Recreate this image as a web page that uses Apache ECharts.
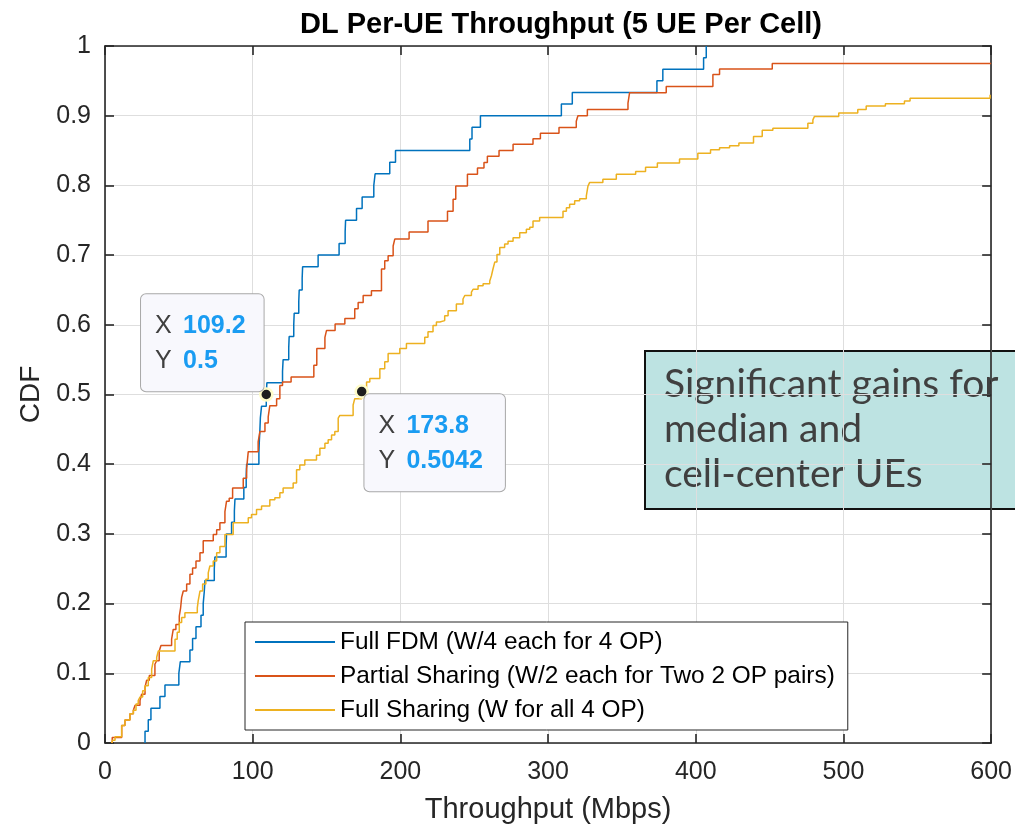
<!DOCTYPE html>
<html>
<head>
<meta charset="utf-8">
<script src="https://cdn.jsdelivr.net/npm/echarts@6/dist/echarts.min.js"></script>
<style>
html,body{margin:0;padding:0;background:#fff;}
#chart{width:1015px;height:829px;}
</style>
</head>
<body>
<div id="chart"></div>
<script>
// ---- data ----
var seriesNames = ['Full FDM (W/4 each for 4 OP)', 'Partial Sharing (W/2 each for Two 2 OP pairs)', 'Full Sharing (W for all 4 OP)'];

var fdmX = [27.1, 27.1, 29.3, 31.1, 37.2, 40.6, 50.0, 51.0, 57.5, 59.3, 61.6, 65.0, 66.5, 67.2, 67.7, 74.0, 74.4, 82.0, 82.3, 85.7, 87.6, 88.0, 94.0, 95.6, 95.9, 104.2, 104.5, 104.9, 105.2, 106.0, 109.2, 109.6, 120.2, 120.6, 124.4, 124.7, 127.8, 128.1, 131.2, 131.5, 133.5, 133.8, 144.3, 158.5, 162.6, 162.9, 170.3, 174.1, 182.0, 182.9, 192.8, 196.7, 247.0, 248.5, 254.2, 309.0, 316.4, 373.7, 377.7, 405.3, 407.1];
var fdmY = [0, 0.0167, 0.0333, 0.05, 0.0667, 0.0833, 0.1, 0.1167, 0.1333, 0.15, 0.1667, 0.1833, 0.2, 0.2167, 0.2333, 0.25, 0.2667, 0.2833, 0.3, 0.3167, 0.3333, 0.35, 0.3667, 0.3833, 0.4, 0.4167, 0.4333, 0.45, 0.4667, 0.4833, 0.5, 0.5167, 0.5333, 0.55, 0.5667, 0.5833, 0.6, 0.6167, 0.6333, 0.65, 0.6667, 0.6833, 0.7, 0.7167, 0.7333, 0.75, 0.7667, 0.7833, 0.8, 0.8167, 0.8333, 0.85, 0.8667, 0.8833, 0.9, 0.9167, 0.9333, 0.95, 0.9667, 0.9833, 1.0];

var partialX = [4.9, 4.9, 11.3, 13.5, 16.9, 19.2, 20.3, 23.7, 24.8, 27.1, 28.2, 30.0, 33.8, 35.0, 36.7, 37.9, 45.1, 46.2, 48.0, 50.3, 51.2, 51.9, 53.0, 55.3, 57.5, 59.3, 61.6, 64.3, 66.5, 73.3, 75.6, 77.8, 81.2, 82.3, 84.1, 86.4, 93.6, 95.9, 97.0, 103.7, 104.9, 108.3, 110.5, 111.6, 116.2, 118.4, 120.2, 126.0, 141.4, 143.4, 148.9, 150.0, 155.8, 162.4, 169.1, 171.4, 174.8, 180.4, 187.2, 189.4, 191.7, 195.1, 196.2, 205.9, 218.7, 231.9, 235.7, 237.5, 245.4, 252.2, 256.6, 258.9, 266.8, 276.3, 289.8, 294.8, 307.4, 319.1, 320.2, 326.6, 354.1, 355.2, 380.0, 411.6, 416.1, 451.8, 600];
var partialY = [0, 0.008, 0.025, 0.033, 0.042, 0.047, 0.054, 0.061, 0.07, 0.08, 0.09, 0.097, 0.113, 0.118, 0.132, 0.14, 0.149, 0.163, 0.17, 0.182, 0.194, 0.209, 0.218, 0.228, 0.242, 0.251, 0.261, 0.273, 0.29, 0.299, 0.306, 0.316, 0.332, 0.347, 0.351, 0.366, 0.38, 0.394, 0.418, 0.432, 0.447, 0.459, 0.468, 0.484, 0.494, 0.513, 0.518, 0.525, 0.542, 0.566, 0.582, 0.592, 0.601, 0.609, 0.623, 0.632, 0.642, 0.649, 0.68, 0.692, 0.699, 0.713, 0.723, 0.733, 0.749, 0.763, 0.78, 0.799, 0.816, 0.825, 0.833, 0.842, 0.85, 0.859, 0.867, 0.875, 0.883, 0.892, 0.9, 0.909, 0.918, 0.933, 0.942, 0.959, 0.967, 0.975, 0.975];

var fullX = [4.5, 5.2, 6.8, 11.3, 13.5, 16.9, 19.2, 21.0, 22.5, 23.7, 25.5, 27.1, 29.3, 31.6, 32.7, 35.0, 36.1, 47.4, 48.9, 50.3, 51.9, 54.1, 62.5, 63.1, 64.3, 66.1, 68.3, 69.9, 71.0, 73.3, 75.6, 77.8, 81.2, 86.8, 97.0, 99.2, 102.6, 106.0, 111.6, 115.0, 118.4, 120.6, 127.4, 129.7, 131.9, 135.3, 143.2, 145.5, 148.9, 151.1, 153.4, 155.6, 157.9, 159.0, 168.0, 169.1, 173.8, 177.1, 179.3, 186.1, 189.4, 191.7, 199.6, 204.1, 216.5, 218.7, 222.1, 224.4, 226.7, 230.0, 232.3, 237.9, 242.4, 243.6, 248.1, 249.2, 252.6, 256.0, 260.5, 261.6, 262.7, 263.9, 265.4, 267.3, 270.6, 272.9, 276.3, 280.8, 285.3, 287.6, 289.8, 294.3, 310.1, 312.4, 314.6, 318.0, 321.4, 325.9, 327.0, 328.1, 337.1, 346.2, 359.3, 366.0, 374.0, 389.0, 401.4, 410.0, 416.1, 422.9, 429.2, 439.1, 445.0, 452.2, 475.9, 479.3, 480.4, 496.8, 509.7, 515.4, 528.4, 541.3, 545.1, 599.3];
var fullY = [0, 0.004, 0.009, 0.025, 0.033, 0.042, 0.047, 0.056, 0.061, 0.066, 0.075, 0.082, 0.094, 0.106, 0.118, 0.123, 0.132, 0.149, 0.159, 0.173, 0.18, 0.187, 0.194, 0.204, 0.218, 0.228, 0.235, 0.244, 0.254, 0.261, 0.273, 0.282, 0.299, 0.316, 0.323, 0.328, 0.335, 0.34, 0.349, 0.352, 0.359, 0.366, 0.373, 0.392, 0.399, 0.406, 0.413, 0.423, 0.43, 0.435, 0.442, 0.447, 0.466, 0.47, 0.485, 0.494, 0.5042, 0.518, 0.523, 0.537, 0.547, 0.559, 0.566, 0.573, 0.582, 0.59, 0.599, 0.604, 0.606, 0.613, 0.62, 0.63, 0.637, 0.642, 0.647, 0.651, 0.656, 0.659, 0.663, 0.67, 0.68, 0.69, 0.701, 0.711, 0.716, 0.72, 0.725, 0.732, 0.737, 0.74, 0.749, 0.754, 0.763, 0.768, 0.773, 0.778, 0.781, 0.785, 0.799, 0.804, 0.809, 0.816, 0.82, 0.826, 0.832, 0.838, 0.846, 0.851, 0.854, 0.857, 0.861, 0.87, 0.879, 0.882, 0.889, 0.894, 0.899, 0.904, 0.909, 0.914, 0.917, 0.921, 0.925, 0.93];

var tipX = [109.2, 173.8];
var tipY = [0.5, 0.5042];

var xTicks = [0, 100, 200, 300, 400, 500, 600];
var yTicks = [0, 0.1, 0.2, 0.3, 0.4, 0.5, 0.6, 0.7, 0.8, 0.9, 1];

var titleText = 'DL Per-UE Throughput (5 UE Per Cell)';
var xName = 'Throughput (Mbps)';
var yName = 'CDF';
var noteText = 'Significant gains for\nmedian and\ncell-center UEs';

// ---- build ----
function zip(xs, ys) { return xs.map(function (x, i) { return [x, ys[i]]; }); }
var colors = ['#0072BD', '#D95319', '#EDB120'];
var axisColor = '#262626';
var fontMain = "'Liberation Sans', Arial, Helvetica, sans-serif";

var chart = echarts.init(document.getElementById('chart'), null, { renderer: 'canvas' });

function lineSeries(name, data, color) {
  return {
    name: name, type: 'line', step: 'end', data: data,
    showSymbol: false, symbol: 'none', clip: true,
    lineStyle: { color: color, width: 1.5 },
    itemStyle: { color: color },
    emphasis: { disabled: true },
    animation: false, z: 3
  };
}

var tipLabelCommon = {
  show: true,
  backgroundColor: '#f8f8fd',
  borderColor: '#a8a8a8',
  borderWidth: 1,
  borderRadius: 5,
  padding: [14, 18, 13, 14],
  lineHeight: 35,
  align: 'left', verticalAlign: 'top',
  rich: {
    k: { fontSize: 25, color: '#404040', fontFamily: fontMain, lineHeight: 35, width: 28 },
    v: { fontSize: 25, color: '#1a9cf2', fontWeight: 'bold', fontFamily: fontMain, lineHeight: 35 }
  }
};

function tipFormatter(p) {
  return '{k|X}{v|' + p.value[0] + '}\n{k|Y}{v|' + p.value[1] + '}';
}

var tipData = [
  { value: [tipX[0], tipY[0]], label: Object.assign({}, tipLabelCommon, { position: [-118, -93], formatter: tipFormatter }) },
  { value: [tipX[1], tipY[1]], label: Object.assign({}, tipLabelCommon, { position: [10, 10], padding: [14, 22, 13, 14], formatter: tipFormatter }) }
];

var option = {
  backgroundColor: '#ffffff',
  animation: false,
  title: {
    text: titleText, left: 556, top: 5, textAlign: 'center',
    textStyle: { fontFamily: fontMain, fontWeight: 'bold', fontSize: 29, color: '#000' }
  },
  grid: { left: 105, right: 23, top: 46, bottom: 83, containLabel: false },
  legend: {
    data: seriesNames,
    orient: 'vertical',
    left: 245, top: 622,
    backgroundColor: '#ffffff',
    borderColor: axisColor, borderWidth: 1, borderRadius: 0,
    padding: [8, 13, 8, 10],
    itemGap: 10,
    itemWidth: 80, itemHeight: 2,
    itemTextGap: 10,
    icon: 'rect',
    selectedMode: false,
    textStyle: { fontFamily: fontMain, fontSize: 24.4, color: '#000' }
  },
  xAxis: [{
    type: 'value', min: xTicks[0], max: xTicks[xTicks.length - 1], interval: 100,
    name: xName, nameLocation: 'middle', nameGap: 52,
    nameTextStyle: { fontFamily: fontMain, fontSize: 29, color: axisColor },
    axisLine: { show: true, onZero: false, lineStyle: { color: axisColor, width: 1.6 } },
    axisTick: { show: true, inside: true, length: 9, lineStyle: { color: axisColor, width: 1.6 } },
    axisLabel: { margin: 17, fontFamily: fontMain, fontSize: 25, color: axisColor },
    splitLine: { show: true, lineStyle: { color: '#dedede', width: 1 } }
  }, {
    type: 'value', position: 'top', min: xTicks[0], max: xTicks[xTicks.length - 1], interval: 100,
    axisLine: { show: true, onZero: false, lineStyle: { color: axisColor, width: 1.6 } },
    axisTick: { show: true, inside: true, length: 9, lineStyle: { color: axisColor, width: 1.6 } },
    axisLabel: { show: false }, splitLine: { show: false }
  }],
  yAxis: [{
    type: 'value', min: yTicks[0], max: yTicks[yTicks.length - 1], interval: 0.1,
    name: yName, nameLocation: 'middle', nameGap: 60, nameRotate: 90,
    nameTextStyle: { fontFamily: fontMain, fontSize: 28, color: axisColor },
    axisLine: { show: true, onZero: false, lineStyle: { color: axisColor, width: 1.6 } },
    axisTick: { show: true, inside: true, length: 9, lineStyle: { color: axisColor, width: 1.6 } },
    axisLabel: { margin: 14, fontFamily: fontMain, fontSize: 25, color: axisColor,
      formatter: function (v) { return String(Math.round(v * 10) / 10); } },
    splitLine: { show: true, lineStyle: { color: '#dedede', width: 1 } }
  }, {
    type: 'value', position: 'right', min: yTicks[0], max: yTicks[yTicks.length - 1], interval: 0.1,
    axisLine: { show: true, onZero: false, lineStyle: { color: axisColor, width: 1.6 } },
    axisTick: { show: true, inside: true, length: 9, lineStyle: { color: axisColor, width: 1.6 } },
    axisLabel: { show: false }, splitLine: { show: false }
  }],
  series: [
    lineSeries(seriesNames[0], zip(fdmX, fdmY), colors[0]),
    lineSeries(seriesNames[1], zip(partialX, partialY), colors[1]),
    lineSeries(seriesNames[2], zip(fullX, fullY), colors[2]),
    {
      name: 'datatips', type: 'scatter', data: tipData,
      symbol: 'circle', symbolSize: 12,
      itemStyle: { color: '#1e1e1e', borderColor: '#fffcc8', borderWidth: 2.5, opacity: 1 },
      emphasis: { disabled: true },
      z: 10, animation: false
    }
  ],
  graphic: [{
    type: 'group', left: 644, top: 350, z: 20,
    children: [{
      type: 'rect', shape: { x: 0, y: 0, width: 390, height: 158 },
      style: { fill: '#bde3e2', stroke: '#111111', lineWidth: 2 }
    }, {
      type: 'text', x: 19, y: 11,
      style: { text: noteText, fontFamily: "Lato, 'Open Sans', sans-serif", fontSize: 39, lineHeight: 45, fill: '#404040' }
    }]
  }]
};
chart.setOption(option);
</script>
</body>
</html>
